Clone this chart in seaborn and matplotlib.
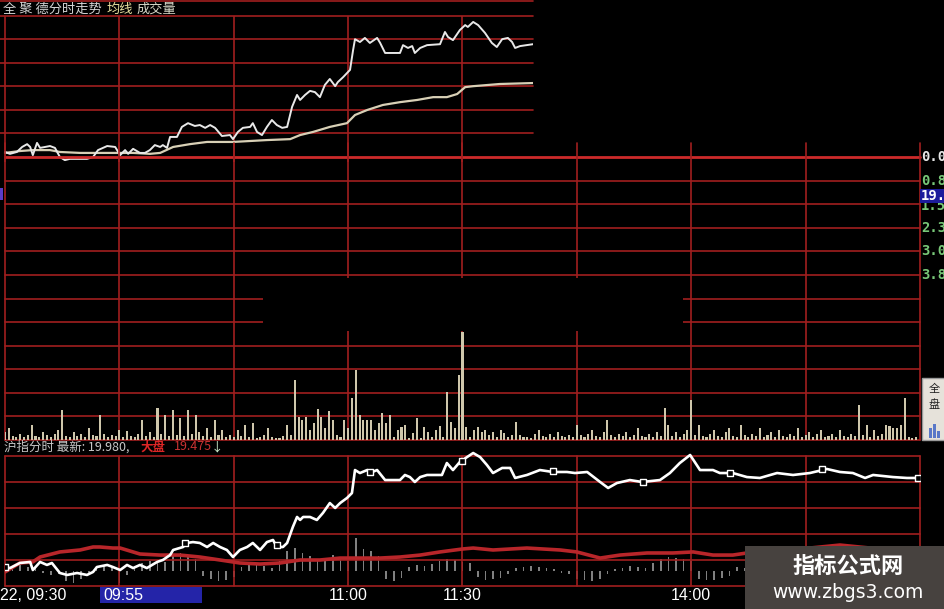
import matplotlib
matplotlib.use('Agg')
import matplotlib.pyplot as plt
import seaborn as sns
from matplotlib.patches import Rectangle
from matplotlib.lines import Line2D
from matplotlib import font_manager

# Intraday chart screenshot: stock minute line on top, volume, index panel below
W, H = 945, 609

# ---- data (minutes after 09:30, trading minutes 0..240) ----
# top panel: stock price, percent change
top_price = [(0, 0.16), (1.3, 0.10), (3.1, 0.16), (4.5, 0.32), (5.8, 0.41), (6.6, 0.32), (7.3, 0.06),
             (8.4, 0.45), (9.2, 0.29), (10.5, 0.32), (11.8, 0.35), (13.1, 0.29), (14.4, 0.0), (15.7, -0.10),
             (17.0, -0.06), (19.7, -0.06), (21.5, -0.06), (23.1, 0.0), (24.4, 0.22), (26.8, 0.35), (28.9, 0.32),
             (30.2, 0.06), (31.5, 0.22), (32.3, 0.10), (33.6, 0.26), (35.4, 0.13), (36.7, 0.13), (38.0, 0.22),
             (39.3, 0.38), (40.7, 0.32), (41.4, 0.38), (42.5, 0.29), (43.3, 0.64), (45.1, 0.64), (46.4, 0.96),
             (48.0, 1.08), (49.8, 0.99), (51.1, 1.02), (52.5, 0.93), (53.8, 1.02), (55.1, 0.93), (56.9, 0.67),
             (59.0, 0.70), (59.8, 0.57), (61.1, 0.80), (62.4, 0.93), (64.3, 0.96), (65.0, 1.08), (66.1, 0.80),
             (67.4, 0.70), (68.7, 0.96), (70.0, 1.18), (71.3, 1.02), (72.7, 0.93), (74.0, 0.96), (75.3, 1.60),
             (76.6, 1.98), (77.4, 1.82), (78.7, 1.98), (80.0, 2.11), (81.3, 2.07), (82.6, 1.91), (83.9, 2.30),
             (85.2, 2.49), (86.6, 2.26), (87.3, 2.39), (88.7, 2.55), (90.5, 2.78), (91.3, 3.41), (91.8, 3.76),
             (93.1, 3.67), (94.4, 3.80), (95.7, 3.64), (97.6, 3.80), (98.4, 3.64), (99.7, 3.32), (103.6, 3.32),
             (104.4, 3.57), (105.7, 3.48), (106.8, 3.54), (107.5, 3.32), (108.9, 3.48), (110.7, 3.57),
             (114.1, 3.60), (115.4, 3.99), (116.2, 3.83), (117.5, 3.73), (119.3, 4.05), (120.7, 4.21),
             (121.4, 4.15), (122.8, 4.31), (124.1, 4.21), (125.9, 3.96), (127.7, 3.64), (129.0, 3.51),
             (130.4, 3.76), (131.9, 3.80), (133.0, 3.67), (133.8, 3.48), (135.1, 3.54), (138.5, 3.60)]

top_avg = [(0, 0.13), (3.9, 0.19), (7.3, 0.22), (11.8, 0.22), (14.4, 0.16), (19.7, 0.13), (24.9, 0.13),
           (33.6, 0.13), (38.0, 0.10), (40.7, 0.13), (44.1, 0.32), (48.5, 0.41), (53.0, 0.48), (59.8, 0.48),
           (68.7, 0.54), (74.8, 0.57), (77.4, 0.70), (80.8, 0.80), (85.2, 0.96), (89.7, 1.08), (91.8, 1.34),
           (95.0, 1.50), (99.1, 1.66), (103.6, 1.75), (108.1, 1.82), (112.3, 1.91), (115.9, 1.91),
           (118.6, 2.01), (120.7, 2.23), (122.8, 2.26), (129.8, 2.33), (138.5, 2.36)]

pct_labels = ['0.0%', '0.8%', '1.5%', '2.3%', '3.0%', '3.8%']

# per-minute volume (hundreds of lots)
volume = [8, 12, 4, 3, 6, 3, 5, 15, 4, 3, 8, 5, 3, 6, 10, 30, 4, 3, 8, 4,
          6, 3, 12, 5, 4, 25, 6, 3, 5, 4, 10, 3, 9, 4, 3, 6, 20, 4, 8, 3,
          32, 6, 25, 4, 30, 5, 22, 4, 30, 6, 25, 8, 4, 12, 3, 20, 5, 10, 3, 5,
          3, 10, 4, 15, 3, 17, 2, 3, 5, 12, 3, 2, 2, 4, 15, 5, 60, 23, 20, 23,
          10, 17, 31, 23, 12, 29, 20, 5, 3, 20, 12, 42, 70, 25, 20, 20, 20, 10, 17, 27,
          17, 25, 3, 10, 13, 15, 2, 7, 22, 2, 13, 8, 3, 10, 14, 3, 48, 18, 12, 65,
          108, 13, 3, 10, 13, 8, 10, 5, 8, 3, 10, 7, 3, 5, 18, 5, 3, 3, 2, 6,
          10, 4, 3, 6, 3, 8, 4, 3, 5, 3, 15, 5, 3, 6, 10, 4, 3, 8, 20, 5,
          3, 6, 4, 8, 3, 5, 12, 4, 3, 6, 3, 8, 4, 32, 15, 4, 8, 3, 6, 10,
          40, 5, 15, 4, 3, 6, 10, 4, 3, 8, 12, 4, 3, 15, 5, 3, 6, 4, 12, 3,
          5, 8, 3, 10, 4, 3, 6, 4, 12, 3, 5, 8, 3, 6, 10, 3, 4, 6, 3, 10,
          4, 3, 6, 4, 35, 5, 15, 3, 10, 4, 6, 15, 14, 12, 12, 15, 42, 3, 2, 3]

# lower panel: index minute line (price) and its red line
low_price = [(0, 19.146), (1.3, 19.138), (3.9, 19.177), (6.6, 19.185), (7.3, 19.123), (9.2, 19.185),
             (11.0, 19.162), (12.3, 19.177), (14.4, 19.100), (16.3, 19.085), (18.9, 19.100), (21.5, 19.085),
             (23.1, 19.108), (24.1, 19.146), (26.8, 19.162), (28.3, 19.146), (30.2, 19.123), (32.0, 19.162),
             (33.6, 19.138), (35.4, 19.162), (37.2, 19.138), (39.9, 19.185), (41.4, 19.200), (43.3, 19.238),
             (44.1, 19.277), (46.7, 19.300), (47.7, 19.331), (49.3, 19.338), (51.1, 19.331), (53.0, 19.300),
             (54.6, 19.331), (56.4, 19.300), (58.2, 19.277), (59.8, 19.223), (61.6, 19.277), (63.5, 19.300),
             (65.0, 19.331), (66.9, 19.277), (68.7, 19.338), (70.3, 19.354), (71.3, 19.300), (72.9, 19.300),
             (74.0, 19.331), (75.5, 19.454), (76.6, 19.531), (77.4, 19.508), (78.2, 19.531), (80.0, 19.531),
             (81.8, 19.508), (83.4, 19.562), (85.2, 19.638), (86.6, 19.600), (87.9, 19.638), (89.7, 19.677),
             (91.0, 19.715), (91.8, 19.892), (93.1, 19.869), (95.0, 19.892), (95.7, 19.869), (97.6, 19.892),
             (99.7, 19.815), (103.6, 19.815), (104.9, 19.854), (106.2, 19.838), (107.5, 19.800), (108.9, 19.838),
             (110.7, 19.854), (114.6, 19.854), (115.9, 19.946), (117.5, 19.892), (119.3, 19.954), (121.2, 19.992),
             (122.8, 20.023), (124.6, 19.992), (126.4, 19.931), (128.0, 19.869), (130.4, 19.908), (132.5, 19.908),
             (133.8, 19.831), (136.9, 19.854), (140.3, 19.892), (143.7, 19.877), (147.4, 19.877), (149.5, 19.869),
             (152.7, 19.877), (156.1, 19.800), (158.2, 19.754), (160.5, 19.792), (163.9, 19.815), (167.1, 19.800),
             (171.8, 19.815), (174.4, 19.869), (177.0, 19.946), (179.7, 20.008), (182.3, 19.892), (185.7, 19.892),
             (187.5, 19.869), (190.9, 19.869), (194.6, 19.838), (198.0, 19.831), (202.5, 19.869), (206.7, 19.854),
             (211.1, 19.869), (215.6, 19.900), (219.0, 19.877), (222.4, 19.869), (225.6, 19.831), (227.7, 19.854),
             (232.9, 19.838), (236.6, 19.831), (239.5, 19.831)]

low_marks = [(0, 19.146), (47.2, 19.331), (71.3, 19.315), (95.7, 19.877), (119.9, 19.962),
             (143.7, 19.885), (167.3, 19.800), (190.2, 19.869), (214.3, 19.900), (239.5, 19.831)]

low_red = [(0, 19.108), (3.9, 19.177), (7.3, 19.185), (9.2, 19.223), (14.4, 19.262), (19.7, 19.277),
           (23.1, 19.300), (24.9, 19.300), (28.3, 19.292), (30.2, 19.292), (35.4, 19.246), (40.7, 19.238),
           (45.9, 19.238), (51.1, 19.223), (56.4, 19.200), (61.6, 19.177), (66.9, 19.169), (72.1, 19.177),
           (77.4, 19.200), (82.6, 19.200), (87.9, 19.215), (93.1, 19.215), (98.4, 19.215), (103.6, 19.223),
           (108.9, 19.238), (114.1, 19.262), (120.1, 19.285), (122.8, 19.292), (128.0, 19.277), (136.9, 19.292),
           (145.6, 19.277), (150.0, 19.262), (156.1, 19.215), (161.3, 19.238), (168.4, 19.254), (175.2, 19.254),
           (180.5, 19.262), (185.7, 19.238), (190.9, 19.238), (194.6, 19.254), (203.3, 19.269), (211.1, 19.292),
           (219.0, 19.315), (226.9, 19.292), (239.5, 19.285)]

# lower histogram, one bar every 2 minutes
low_hist = [3, 5, 6, 4, 3, -2, -4, -3, -10, -12, -8, -3, 2, 6, 5, -12, -4, 3, 8, 10,
            10, 9, 15, 18, 16, 12, -5, -8, -10, -9, -6, 4, 6, 8, 5, 3, 10, 20, 23, 18,
            15, 12, 12, 16, 14, 10, 33, 22, 20, 15, -8, -10, -7, 4, 6, 5, 7, 10, 12, 11,
            9, 8, -6, -9, -8, -7, -3, 3, 4, 5, 4, 3, 2, -2, -3, -8, -9, -10, -8, -3,
            2, 3, 5, 4, 3, 8, 12, 14, 13, 12, 10, -8, -9, -9, -7, -5, 4, 3, 2, -2,
            -3, -4, -2, 3, 5, 6, 4, 2, -2, -3, -4, -3, 2, 4, 6, 5, 3, 2, -2, -3]

time_labels = ['11:00', '11:30', '14:00']
time_label_min = [90, 120, 180]

# ---- style ----
sns.set_theme(style='dark', rc={'axes.facecolor': 'black', 'figure.facecolor': 'black'})
plt.rcParams['font.family'] = ['Noto Sans CJK SC', 'DejaVu Sans']

installed = {f.name for f in font_manager.fontManager.ttflist}
narrow = 'Liberation Sans Narrow' if 'Liberation Sans Narrow' in installed else 'Liberation Sans'

GRID = '#a01f1f'
ZERO = '#cc2a2a'

fig = plt.figure(figsize=(W / 100, H / 100), dpi=100)
fig.patch.set_facecolor('black')


def px_axes(x0, y0, x1, y1):
    ax = fig.add_axes([x0 / W, 1 - y1 / H, (x1 - x0) / W, (y1 - y0) / H])
    ax.axis('off')
    return ax


def px_rect(x0, y0, x1, y1, color, z, ec='none'):
    fig.add_artist(Rectangle((x0 / W, 1 - y1 / H), (x1 - x0) / W, (y1 - y0) / H,
                             transform=fig.transFigure, facecolor=color, edgecolor=ec, zorder=z))


def fig_text(x, y, s, **kw):
    kw.setdefault('va', 'center')
    kw.setdefault('zorder', 8)
    fig.text(x / W, 1 - y / H, s, **kw)


def minute(px):
    return (px - 5) / 3.8125


# ---- top panel (stock minute line) ----
ax_top = px_axes(0, 16, 533, 162)
ax_top.set_xlim(minute(0), minute(533))
ax_top.set_ylim(-0.16, 4.5)
for k in range(1, 7):
    ax_top.axhline(0.75 * k, color=GRID, lw=1.2, clip_on=False, zorder=1)
for m in range(0, 150, 30):
    ax_top.axvline(m, color=GRID, lw=1.2, zorder=1)
fig.add_artist(Line2D([0, 533 / W], [1 - 1 / H, 1 - 1 / H], color=GRID, lw=1.2))

tx, ty = zip(*top_price)
ax_x, ax_y = zip(*top_avg)
sns.lineplot(x=list(ax_x), y=list(ax_y), ax=ax_top, color='#d8d0b6', lw=1.6, sort=False, estimator=None, zorder=3)
sns.lineplot(x=list(tx), y=list(ty), ax=ax_top, color='#e8e8e8', lw=1.4, sort=False, estimator=None, zorder=4)

# ---- middle grid + volume ----
ax_mid = px_axes(5, 143, 920, 440)
ax_mid.set_xlim(0, 240)
ax_mid.set_ylim(0, 297 / 23.58)
for k in range(12):
    ax_mid.axhline(k, color=GRID, lw=1.2, clip_on=False, zorder=1)
ax_mid.axhline(12, color=ZERO, lw=2.0, clip_on=False, zorder=1)
for m in range(0, 241, 30):
    ax_mid.axvline(m, color=GRID, lw=1.2, clip_on=False, zorder=1)

for k, lab in enumerate(pct_labels):
    ax_mid.text(240.3, 12 - k - (0.08 if k == 2 else 0), lab, color='#e6e6e6' if k == 0 else '#78c878',
                fontsize=10, fontweight='bold', family='DejaVu Sans Mono', va='center', ha='left',
                clip_on=False)

ax_vol = px_axes(5, 157, 920, 440)
ax_vol.set_xlim(0, 240)
ax_vol.set_ylim(0, 283)
ax_vol.bar(range(len(volume)), volume, width=0.55, color='#cfc7ac', edgecolor='none', linewidth=0, zorder=2)

# black patch pasted over the middle of the grid
px_rect(263, 278, 683, 331, 'black', 5)

# ---- lower panel (index) ----
# histogram axes first so the lines are drawn over it
ax_hist = px_axes(5, 450, 920, 586)
ax_hist.set_xlim(0, 240)
ax_hist.set_ylim(-15, 121)
ax_hist.bar([2 * i for i in range(len(low_hist))], low_hist, width=0.45, color='#808080',
            edgecolor='none', linewidth=0, zorder=2)

ax_low = px_axes(5, 450, 920, 586)
ax_low.set_xlim(0, 240)
ax_low.set_ylim(19.0, 19.0 + 136 / 130)
for k in range(6):
    ax_low.axhline(19.0 + 0.2 * k, color=GRID, lw=1.2, clip_on=False, zorder=1)
for m in range(0, 241, 30):
    ax_low.axvline(m, ymin=0, ymax=1.0 / 1.046, color=GRID, lw=1.2, clip_on=False, zorder=1)

rx, ry = zip(*low_red)
lx, ly = zip(*low_price)
mx, my = zip(*low_marks)
sns.lineplot(x=list(rx), y=list(ry), ax=ax_low, color='#b8262a', lw=2.6, sort=False, estimator=None, zorder=3)
sns.lineplot(x=list(lx), y=list(ly), ax=ax_low, color='white', lw=1.9, sort=False, estimator=None, zorder=4)
sns.scatterplot(x=list(mx), y=list(my), ax=ax_low, marker='s', s=18, color='black', edgecolor='white',
                linewidth=1.0, zorder=5, legend=False)

# ---- texts ----
fig_text(3, 9, '全 聚 德分时走势', color='#d6d6d6', fontsize=9.5)
fig_text(107, 9, '均线', color='#e8e0a0', fontsize=9.5)
fig_text(137, 9, '成交量', color='#d8d8c8', fontsize=9.5)

fig_text(4, 447, '沪指分时 最新: 19.980,', color='#c8c8c8', fontsize=9)
fig_text(140, 447, '大盘', color='#dc2626', fontsize=9, fontweight='bold')
fig_text(174, 447, '19.475', color='#c83232', fontsize=9)
fig_text(211, 448, '↓', color='#d0f0d0', fontsize=9)

# right side price tag and small widget
px_rect(920, 189, 945, 203, '#1c1c9c', 6)
fig_text(921, 196, '19.0', color='white', fontsize=10, fontweight='bold', family='DejaVu Sans Mono')
px_rect(0, 188, 3, 200, '#5a3cc8', 6)
px_rect(922, 378, 946, 440, '#e6e2da', 6, ec='#9a9a9a')
fig_text(934, 389, '全', color='#202020', fontsize=8, ha='center')
fig_text(934, 405, '盘', color='#202020', fontsize=8, ha='center')
px_rect(929, 428, 932, 438, '#5a78c8', 7)
px_rect(933, 424, 936, 438, '#5a78c8', 7)
px_rect(937, 431, 940, 438, '#5a78c8', 7)

# time row
fig_text(0, 595, '22, 09:30', color='white', fontsize=11.5, family=narrow)
px_rect(100, 587, 202, 603, '#2424a8', 6)
fig_text(103, 595, '09:55', color='white', fontsize=11.5, family=narrow)
for lab, m in zip(time_labels, time_label_min):
    fig_text(5 + 3.8125 * m, 595, lab, color='white', fontsize=11.5, family=narrow, ha='center')

# watermark
px_rect(745, 546, 946, 610, '#47423f', 9)
fig_text(848, 566, '指标公式网', color='white', fontsize=16, fontweight='bold', ha='center', zorder=10)
fig_text(848, 593, 'www.zbgs3.com', color='white', fontsize=13.5, ha='center', family='DejaVu Sans', zorder=10)

fig.savefig('out.png', dpi=100, facecolor='black')
